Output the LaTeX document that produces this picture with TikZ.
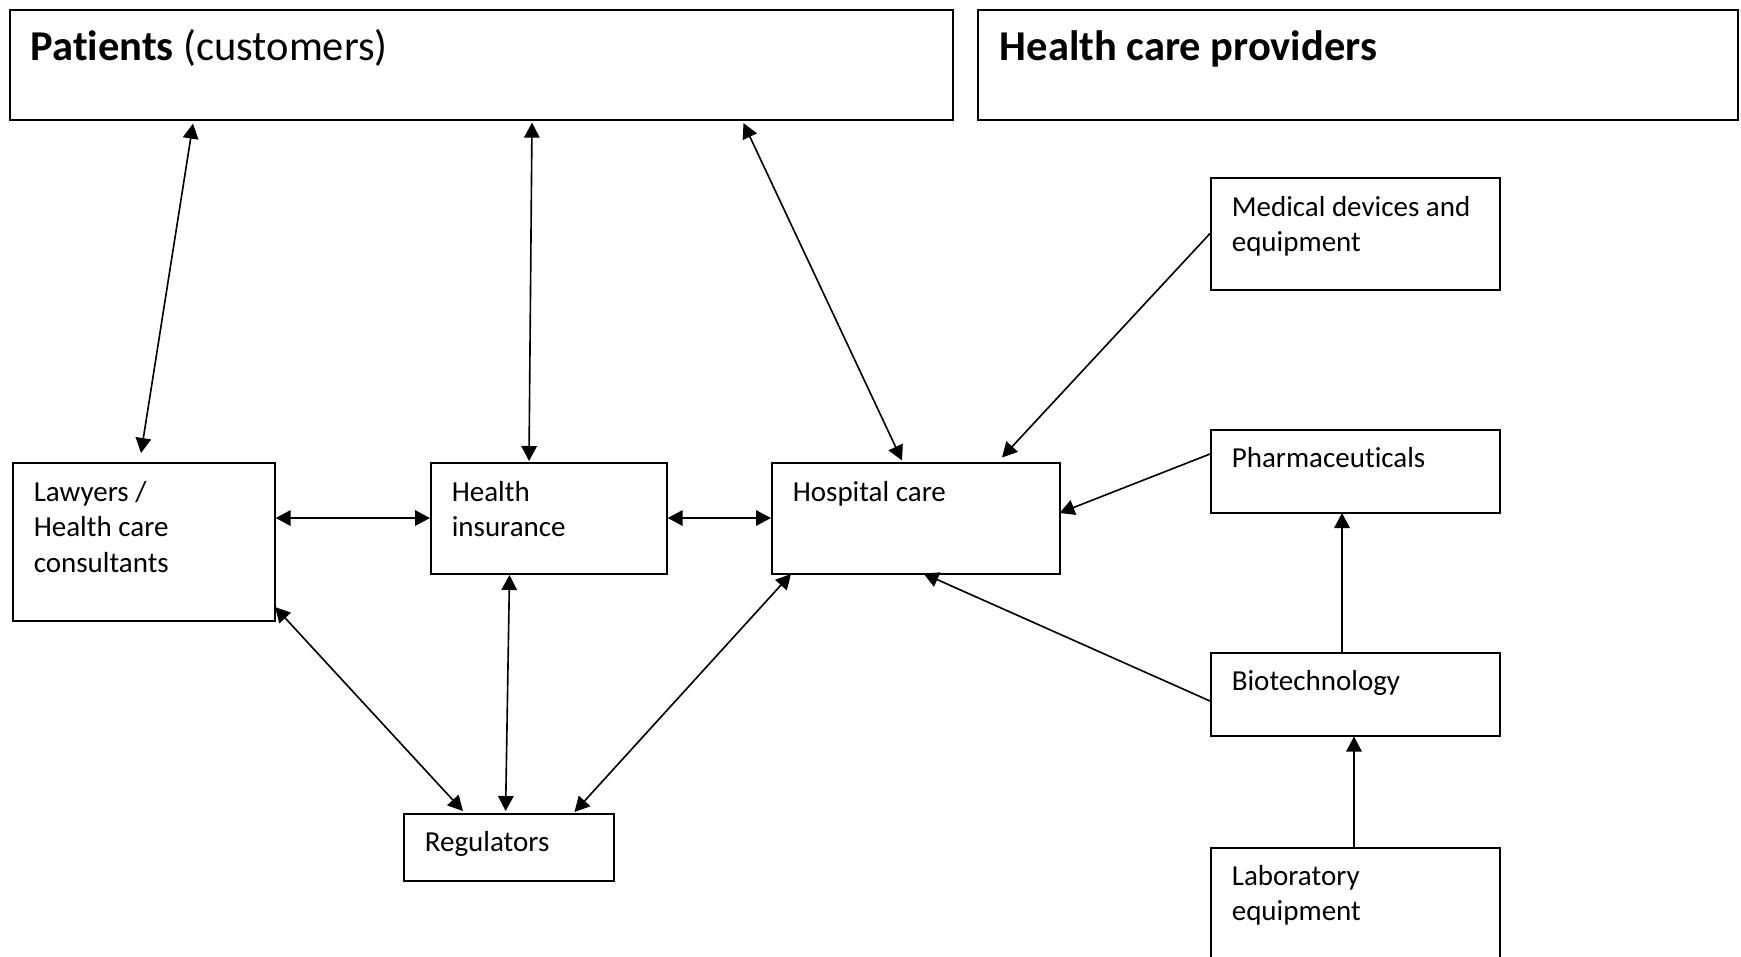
\documentclass[tikz,border=0pt]{standalone}
\usepackage{fontspec}
\setmainfont{Carlito}[Ligatures=NoCommon]
\usetikzlibrary{arrows.meta}
\newcommand{\lines}[1]{\begin{tabular}[t]{@{}l@{}}#1\end{tabular}}

\begin{document}
\begin{tikzpicture}[x=0.4pt,y=-0.4pt,line width=0.65pt,
    >={Triangle[length=6pt,width=6.2pt]},
    box/.style={draw,inner sep=0pt,anchor=north west},
    txt/.style={anchor=base west,inner sep=0pt,font=\fontsize{11.6}{14.2}\selectfont},
    head/.style={anchor=base west,inner sep=0pt,font=\fontsize{17}{20}\selectfont}]
\useasboundingbox (0,0) rectangle (1741,956);

% the two groups
\node[box,minimum width=377.2pt,minimum height=44pt] (pat) at (9,9) {};
\node[box,minimum width=304pt,minimum height=44pt] (prov) at (977,9) {};
\node[head] (pat-t) at ([shift={(21,51)}]pat.north west) {\textbf{Patients} (customers)};
\node[head] (prov-t) at ([shift={(22,51)}]prov.north west) {\textbf{Health care providers}};

% patient side
\node[box,minimum width=104.8pt,minimum height=63.2pt] (law) at (12,462) {};
\node[box,minimum width=94.4pt,minimum height=44.4pt] (ins) at (430,462) {};
\node[box,minimum width=115.2pt,minimum height=44.4pt] (hosp) at (771,462) {};
\node[box,minimum width=84pt,minimum height=26.8pt] (reg) at (403,813) {};
\node[txt] (law-t) at ([shift={(21,39)}]law.north west) {\lines{Lawyers /\\Health care\\consultants}};
\node[txt] (ins-t) at ([shift={(21,39)}]ins.north west) {\lines{Health\\insurance}};
\node[txt] (hosp-t) at ([shift={(21,39)}]hosp.north west) {Hospital care};
\node[txt] (reg-t) at ([shift={(21,38)}]reg.north west) {Regulators};

% provider side
\node[box,minimum width=115.6pt,minimum height=44.8pt] (med) at (1210,177) {};
\node[box,minimum width=115.6pt,minimum height=33.2pt] (pharma) at (1210,429) {};
\node[box,minimum width=115.6pt,minimum height=33.2pt] (bio) at (1210,652) {};
\node[box,minimum width=115.6pt,minimum height=44.8pt] (lab) at (1210,847) {};
\node[txt] (med-t) at ([shift={(21,39)}]med.north west) {\lines{Medical devices and\\equipment}};
\node[txt] (pharma-t) at ([shift={(21,38)}]pharma.north west) {Pharmaceuticals};
\node[txt] (bio-t) at ([shift={(21,38)}]bio.north west) {Biotechnology};
\node[txt] (lab-t) at ([shift={(21,38)}]lab.north west) {\lines{Laboratory\\equipment}};

% links
\draw[<->] ([shift={(184,3)}]pat.south west) -- ([shift={(129,-9)}]law.north west);
\draw[<->] ([shift={(523,2)}]pat.south west) -- ([shift={(99,-1)}]ins.north west);
\draw[<->] ([shift={(734.5,2.5)}]pat.south west) -- ([shift={(131,-1.5)}]hosp.north west);
\draw[<->] ([shift={(0,56)}]law.north east) -- ([shift={(0,56)}]ins.north west);
\draw[<->] ([shift={(0,56)}]ins.north east) -- ([shift={(0,56)}]hosp.north west);
\draw[<->] ([shift={(263,145)}]law.north west) -- ([shift={(60,-2)}]reg.north west);
\draw[<->] ([shift={(79.5,113)}]ins.north west) -- ([shift={(102.6,-2)}]reg.north west);
\draw[<->] ([shift={(20,112)}]hosp.north west) -- ([shift={(171.5,-1)}]reg.north west);
\draw[->] ([shift={(0,56.5)}]med.north west) -- ([shift={(231,-4.5)}]hosp.north west);
\draw[->] ([shift={(0,25)}]pharma.north west) -- ([shift={(288.5,51)}]hosp.north west);
\draw[->] ([shift={(0,49)}]bio.north west) -- ([shift={(152.5,111.5)}]hosp.north west);
\draw[->] ([shift={(132,0)}]bio.north west) -- ([shift={(132,84)}]pharma.north west);
\draw[->] ([shift={(144,0)}]lab.north west) -- ([shift={(144,84.5)}]bio.north west);
\end{tikzpicture}
\end{document}
